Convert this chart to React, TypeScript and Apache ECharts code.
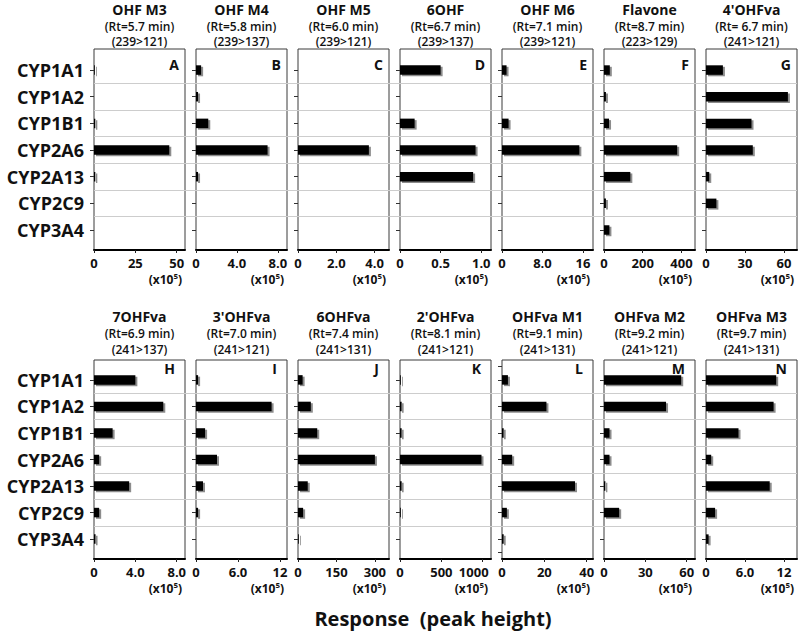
import React, { useEffect, useRef } from 'react';
import * as echarts from 'echarts';

// ---------- data ----------
const categories = ['CYP1A1', 'CYP1A2', 'CYP1B1', 'CYP2A6', 'CYP2A13', 'CYP2C9', 'CYP3A4'];
const categoryBoundaries = [0.5, 1.5, 2.5, 3.5, 4.5, 5.5];

const panelLetters = ['A', 'B', 'C', 'D', 'E', 'F', 'G', 'H', 'I', 'J', 'K', 'L', 'M', 'N'];
const panelNames = ['OHF M3', 'OHF M4', 'OHF M5', '6OHF', 'OHF M6', 'Flavone', "4'OHFva",
  '7OHFva', "3'OHFva", '6OHFva', "2'OHFva", 'OHFva M1', 'OHFva M2', 'OHFva M3'];
const retentionTimes = ['(Rt=5.7 min)', '(Rt=5.8 min)', '(Rt=6.0 min)', '(Rt=6.7 min)', '(Rt=7.1 min)', '(Rt=8.7 min)', '(Rt= 6.7 min)',
  '(Rt=6.9 min)', '(Rt=7.0 min)', '(Rt=7.4 min)', '(Rt=8.1 min)', '(Rt=9.1 min)', '(Rt=9.2 min)', '(Rt=9.7 min)'];
const transitions = ['(239>121)', '(239>137)', '(239>121)', '(239>137)', '(239>121)', '(223>129)', '(241>121)',
  '(241>137)', '(241>121)', '(241>131)', '(241>121)', '(241>131)', '(241>121)', '(241>131)'];

const axisMax = [55, 8.9, 4.75, 1.12, 18, 470, 70, 8.8, 13, 355, 1100, 43, 66, 14];
const tickValues = [
  [0, 25, 50], [0, 4, 8], [0, 2, 4], [0, 0.5, 1], [0, 8, 16], [0, 200, 400], [0, 30, 60],
  [0, 4, 8], [0, 6, 12], [0, 150, 300], [0, 500, 1000], [0, 20, 40], [0, 30, 60], [0, 6, 12],
];
const tickLabels = [
  ['0', '25', '50'], ['0', '4.0', '8.0'], ['0', '2.0', '4.0'], ['0', '0.5', '1.0'], ['0', '8.0', '16'], ['0', '200', '400'], ['0', '30', '60'],
  ['0', '4.0', '8.0'], ['0', '6.0', '12'], ['0', '150', '300'], ['0', '500', '1000'], ['0', '20', '40'], ['0', '30', '60'], ['0', '6.0', '12'],
];
const unitLabel = '(x10⁵)';

// responses (x10^5), order = categories
const valuesA = [0.4, 0, 0.8, 45.5, 0.8, 0, 0];
const valuesB = [0.5, 0.2, 1.2, 7.0, 0.2, 0, 0];
const valuesC = [0, 0, 0, 3.7, 0, 0, 0];
const valuesD = [0.5, 0, 0.18, 0.93, 0.9, 0, 0];
const valuesE = [0.9, 0, 1.3, 15.3, 0, 0, 0];
const valuesF = [30, 10, 26, 378, 136, 10, 28];
const valuesG = [13, 63, 35, 36, 2.5, 8, 0];
const valuesH = [4.0, 6.7, 1.8, 0.5, 3.4, 0.5, 0.15];
const valuesI = [0.3, 10.8, 1.3, 3.0, 1.0, 0.3, 0];
const valuesJ = [18, 50, 75, 300, 38, 20, 3];
const valuesK = [8, 20, 20, 985, 20, 8, 0];
const valuesL = [2.8, 21, 0.8, 4.8, 34.5, 2.3, 0.8];
const valuesM = [56, 45, 4, 4, 1, 11, 0];
const valuesN = [10.8, 10.4, 5.0, 0.8, 9.8, 1.4, 0.4];
const seriesValues = [valuesA, valuesB, valuesC, valuesD, valuesE, valuesF, valuesG,
  valuesH, valuesI, valuesJ, valuesK, valuesL, valuesM, valuesN];

const halfTickPanels = ['L'];
// panels whose last tick label sits left of its tick (to keep clear of the next panel)
const lastLabelShift: Record<string, number> = { K: 9 };

// ---------- layout ----------
const FONT = 'Open Sans';
const PANEL_LEFT0 = 94;
const PANEL_STEP = 102;
const PANEL_W = 91;
const CHART_W = 800;
const rows = [
  { top: 49, bottom: 250, yMin: -0.79, yMax: 6.75, nameY: 9.5, subTop: 18.25, subLH: 15.5, letterY: 64, letterInset: 6, unitY: 279 },
  { top: 360, bottom: 559, yMin: -0.75, yMax: 6.75, nameY: 316, subTop: 325.5, subLH: 16, letterY: 368, letterInset: 10, unitY: 588 },
];
const BAR_H = 9.5;

const renderBar = (params: any, api: any) => {
  const v = api.value(0);
  const k = api.value(1);
  if (!v) return null;
  const p0 = api.coord([0, k]);
  const p1 = api.coord([v, k]);
  const w = Math.max(p1[0] - p0[0], 0.8);
  return {
    type: 'group',
    children: [
      { type: 'rect', shape: { x: p0[0] + 2, y: p0[1] - BAR_H / 2 + 1.5, width: w, height: BAR_H }, style: { fill: '#8c8c8c' } },
      { type: 'rect', shape: { x: p0[0], y: p0[1] - BAR_H / 2, width: w, height: BAR_H }, style: { fill: '#000' } },
    ],
  };
};

function buildOption() {
  const grids: any[] = [];
  const xAxes: any[] = [];
  const yAxes: any[] = [];
  const series: any[] = [];
  const graphics: any[] = [];

  seriesValues.forEach((vals, i) => {
    const r = Math.floor(i / 7);
    const c = i % 7;
    const row = rows[r];
    const left = PANEL_LEFT0 + PANEL_STEP * c;
    const right = left + PANEL_W;
    const cx = left + PANEL_W / 2;
    grids.push({
      left, top: row.top, width: PANEL_W, height: row.bottom - row.top,
      show: true, borderColor: '#3a3a3a', borderWidth: 1, backgroundColor: 'transparent',
    });
    const ticks = tickValues[i];
    const labels = tickLabels[i];
    const shift = lastLabelShift[panelLetters[i]] || 0;
    xAxes.push({
      type: 'value', gridIndex: i, min: 0, max: axisMax[i],
      axisLine: { show: true, onZero: false, lineStyle: { color: '#000', width: 2 } },
      axisTick: { show: true, customValues: ticks, length: 3, lineStyle: { color: '#222' } },
      axisLabel: {
        customValues: ticks, margin: 6, color: '#111', fontFamily: FONT, fontWeight: 'bold', fontSize: 13,
        rich: { last: { padding: [0, shift * 2, 0, 0], fontFamily: FONT, fontWeight: 'bold', fontSize: 13, color: '#111' } },
        formatter: (v: number) => {
          const idx = ticks.findIndex((t) => Math.abs(t - v) < 1e-9);
          if (idx < 0) return '';
          if (shift && idx === ticks.length - 1) return `{last|${labels[idx]}}`;
          return labels[idx];
        },
      },
      splitLine: { show: false },
    });
    const yTicks = halfTickPanels.includes(panelLetters[i])
      ? [-0.5, 0, 0.5, 1, 1.5, 2, 2.5, 3, 3.5, 4, 4.5, 5, 5.5, 6, 6.5]
      : categories.map((_, k) => k);
    yAxes.push({
      type: 'value', gridIndex: i, min: row.yMin, max: row.yMax, inverse: true,
      axisLine: { show: false, onZero: false },
      axisTick: { show: true, customValues: yTicks, length: 4, lineStyle: { color: '#333' } },
      axisLabel: {
        show: c === 0, customValues: categories.map((_, k) => k), margin: 10,
        color: '#111', fontFamily: FONT, fontWeight: 'bold', fontSize: 18,
        formatter: (v: number) => categories[Math.round(v)] ?? '',
      },
      splitLine: { show: false },
    });
    series.push({
      type: 'custom', xAxisIndex: i, yAxisIndex: i, renderItem: renderBar,
      encode: { x: 0, y: 1 }, data: vals.map((v, k) => [v, k]), z: 3, silent: true,
    });

    // titles
    graphics.push({ type: 'text', x: cx, y: row.nameY, style: { text: panelNames[i], fill: '#111', font: `bold 14px "${FONT}"`, align: 'center', verticalAlign: 'middle' } });
    graphics.push({
      type: 'text', x: cx, y: row.subTop,
      style: { text: `${retentionTimes[i]}\n${transitions[i]}`, fill: '#111', font: `600 12px "${FONT}"`, lineHeight: row.subLH, align: 'center', verticalAlign: 'top' },
    });
    // panel letter
    graphics.push({ type: 'text', x: right - row.letterInset, y: row.letterY, style: { text: panelLetters[i], fill: '#111', font: `bold 14px "${FONT}"`, align: 'right', verticalAlign: 'middle' } });
    // unit
    graphics.push({ type: 'text', x: right - 3, y: row.unitY, style: { text: unitLabel, fill: '#111', font: `bold 12px "${FONT}"`, align: 'right', verticalAlign: 'middle' } });
  });

  // background rows for category separators
  rows.forEach((row, r) => {
    const gi = 14 + r;
    grids.push({ left: PANEL_LEFT0, top: row.top, right: CHART_W - (PANEL_LEFT0 + PANEL_STEP * 6 + PANEL_W), height: row.bottom - row.top, show: false });
    xAxes.push({ type: 'value', gridIndex: gi, min: 0, max: 1, show: false });
    yAxes.push({ type: 'value', gridIndex: gi, min: row.yMin, max: row.yMax, inverse: true, show: false });
    series.push({
      type: 'scatter', xAxisIndex: gi, yAxisIndex: gi, data: [], silent: true, z: 0,
      markLine: {
        silent: true, symbol: ['none', 'none'], label: { show: false },
        lineStyle: { color: '#cdcdcd', width: 1, type: 'solid' },
        data: categoryBoundaries.map((b) => ({ yAxis: b })),
      },
    });
  });

  graphics.push({ type: 'text', x: 433, y: 618, style: { text: 'Response  (peak height)', fill: '#111', font: `bold 20px "${FONT}"`, align: 'center', verticalAlign: 'middle' } });

  return {
    animation: false,
    backgroundColor: '#fff',
    textStyle: { fontFamily: FONT },
    grid: grids,
    xAxis: xAxes,
    yAxis: yAxes,
    series,
    graphic: graphics,
  };
}

export default function App() {
  const ref = useRef<HTMLDivElement>(null);
  useEffect(() => {
    const chart = echarts.init(ref.current!, null, { renderer: 'svg' });
    chart.setOption(buildOption() as any);
    return () => chart.dispose();
  }, []);
  return <div ref={ref} style={{ position: 'absolute', left: 0, top: 0, width: 800, height: 631, background: '#fff' }} />;
}
